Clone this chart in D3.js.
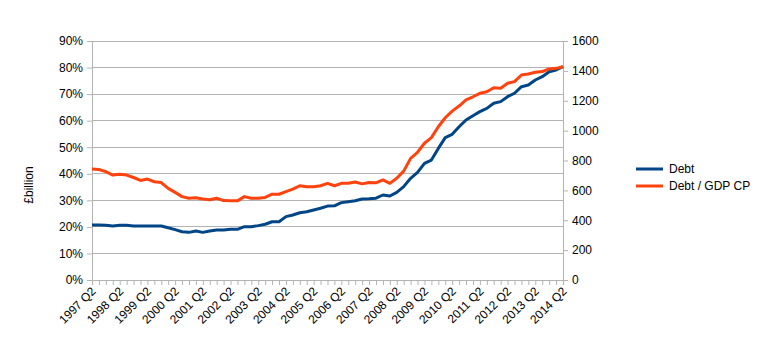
<!DOCTYPE html>
<html>
<head>
<meta charset="utf-8">
<script src="https://cdn.jsdelivr.net/npm/d3@7"></script>
<style>
  body { margin: 0; background: white; }
  text { font-family: "Liberation Sans", Arial, sans-serif; font-size: 12px; fill: #000; }
</style>
</head>
<body>
<svg id="chart" width="770" height="358"></svg>
<script>
// quarterly, 1997 Q2 .. 2014 Q2
const startYear = 1997;
const debt = [368, 368, 366, 361, 366, 366, 362, 362, 362, 362, 361, 350, 337, 323,
    319, 328, 319, 328, 335, 335, 339, 339, 357, 357, 364, 373, 390, 390,
    424, 435, 450, 457, 469, 480, 495, 497, 518, 524, 531, 542, 544, 548,
    569, 562, 587, 625, 681, 721, 781, 803, 881, 953, 975, 1026, 1071, 1100,
    1127, 1149, 1183, 1194, 1227, 1250, 1294, 1305, 1339, 1361, 1394, 1406, 1428];
const debtGdp = [41.8, 41.6, 40.8, 39.5, 39.8, 39.5, 38.6, 37.5, 38.0, 37.0, 36.7, 34.5, 33.0, 31.4,
    30.8, 31.0, 30.5, 30.2, 30.8, 29.9, 29.8, 29.8, 31.4, 30.8, 30.8, 31.1, 32.3, 32.3,
    33.3, 34.2, 35.5, 35.1, 35.1, 35.5, 36.4, 35.5, 36.4, 36.4, 36.9, 36.2, 36.7, 36.6,
    37.7, 36.4, 38.3, 41.0, 45.8, 48.1, 51.5, 53.6, 57.7, 61.1, 63.6, 65.5, 67.8, 69.0,
    70.3, 70.9, 72.4, 72.2, 74.1, 74.7, 77.2, 77.6, 78.2, 78.5, 79.5, 79.7, 80.3];
const quarters = debt.map((d, i) => `${startYear + Math.floor((i + 1) / 4)} Q${(i + 1) % 4 + 1}`);
const pctTicks = [0, 10, 20, 30, 40, 50, 60, 70, 80, 90];
const debtTicks = [0, 200, 400, 600, 800, 1000, 1200, 1400, 1600];
const seriesNames = ["Debt", "Debt / GDP CP"];
const colours = ["#004586", "#ff420e"];

const svg = d3.select("#chart");
const margin = { top: 41, left: 92, right: 563, bottom: 280 };
const grey = "#b3b3b3";

const xScale = d3.scalePoint()
    .domain(quarters)
    .range([margin.left, margin.right]);
const yLeft = d3.scaleLinear().domain([0, 90]).range([margin.bottom, margin.top]);
const yRight = d3.scaleLinear().domain([0, 1600]).range([margin.bottom, margin.top]);

// gridlines
svg.append("g").selectAll("line")
    .data(pctTicks)
    .join("line")
    .attr("x1", margin.left).attr("x2", margin.right)
    .attr("y1", d => yLeft(d)).attr("y2", d => yLeft(d))
    .attr("stroke", grey).attr("stroke-width", 1)
    .attr("shape-rendering", "crispEdges");

// left axis
const leftAxis = svg.append("g")
    .attr("transform", `translate(${margin.left},0)`)
    .call(d3.axisLeft(yLeft).tickValues(pctTicks).tickFormat(d => d + "%").tickSizeOuter(0).tickSize(5).tickPadding(4));

// right axis
const rightAxis = svg.append("g")
    .attr("transform", `translate(${margin.right},0)`)
    .call(d3.axisRight(yRight).tickValues(debtTicks).tickFormat(d => String(d)).tickSizeOuter(0).tickSize(5).tickPadding(4));

// x axis
const xAxis = svg.append("g")
    .attr("transform", `translate(0,${margin.bottom})`)
    .call(d3.axisBottom(xScale).tickSize(5).tickSizeOuter(0)
        .tickFormat((d, i) => i % 4 === 0 ? d : ""));

xAxis.selectAll("text")
    .attr("text-anchor", "end")
    .attr("dy", null)
    .attr("y", 0)
    .attr("transform", d => "translate(4,12)rotate(-45)");

[leftAxis, rightAxis, xAxis].forEach(a => {
    a.select(".domain").attr("stroke", grey);
    a.selectAll(".tick line").attr("stroke", grey);
    a.selectAll("text").style("font-family", "Liberation Sans, Arial, sans-serif").style("font-size", "12px");
});

// lines
const debtLine = d3.line()
    .x((d, i) => xScale(quarters[i]))
    .y(d => yRight(d));
const gdpLine = d3.line()
    .x((d, i) => xScale(quarters[i]))
    .y(d => yLeft(d));

svg.append("path")
    .datum(debt)
    .attr("d", debtLine)
    .attr("fill", "none")
    .attr("stroke", colours[0])
    .attr("stroke-width", 3)
    .attr("stroke-linejoin", "round");

svg.append("path")
    .datum(debtGdp)
    .attr("d", gdpLine)
    .attr("fill", "none")
    .attr("stroke", colours[1])
    .attr("stroke-width", 3)
    .attr("stroke-linejoin", "round");

// y label
svg.append("text")
    .attr("transform", "translate(33,185)rotate(-90)")
    .attr("text-anchor", "middle")
    .text("£billion");

// legend
const legend = svg.append("g")
    .selectAll("g")
    .data(seriesNames)
    .join("g")
    .attr("transform", (d, i) => `translate(636,${169 + i * 17})`);

legend.append("line")
    .attr("x1", 0).attr("x2", 27)
    .attr("stroke", (d, i) => colours[i])
    .attr("stroke-width", 3);

legend.append("text")
    .attr("x", 33)
    .attr("dy", "0.35em")
    .text(d => d);
</script>
</body>
</html>
